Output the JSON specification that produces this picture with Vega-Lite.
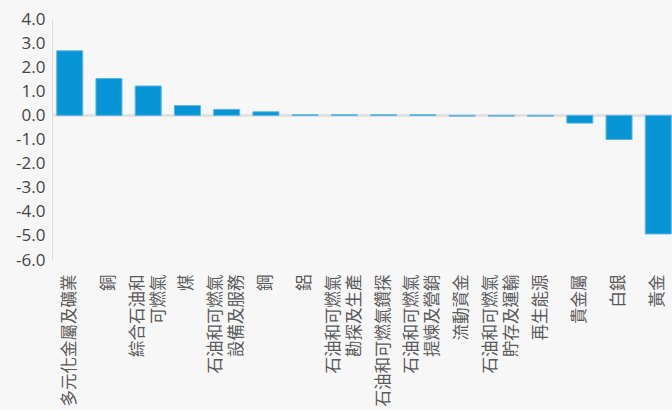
{
  "$schema": "https://vega.github.io/schema/vega-lite/v6.json",
  "width": 620,
  "height": 241,
  "autosize": "none",
  "padding": {"left": 52, "top": 19, "right": 0, "bottom": 150},
  "background": "#f7f7f7",
  "config": {"view": {"stroke": null}, "axis": {"labelOverlap": false}},
  "data": {
    "values": [
      {"sector": "多元化金屬及礦業", "value": 2.68},
      {"sector": "銅", "value": 1.53},
      {"sector": "綜合石油和 可燃氣", "value": 1.22},
      {"sector": "煤", "value": 0.41},
      {"sector": "石油和可燃氣 設備及服務", "value": 0.25},
      {"sector": "鋼", "value": 0.15},
      {"sector": "鋁", "value": 0.03},
      {"sector": "石油和可燃氣 勘探及生產", "value": 0.03},
      {"sector": "石油和可燃氣鑽探", "value": 0.03},
      {"sector": "石油和可燃氣 提煉及營銷", "value": 0.03},
      {"sector": "流動資金", "value": -0.03},
      {"sector": "石油和可燃氣 貯存及運輸", "value": -0.03},
      {"sector": "再生能源", "value": -0.03},
      {"sector": "貴金屬", "value": -0.32},
      {"sector": "白銀", "value": -1.0},
      {"sector": "黃金", "value": -4.92}
    ]
  },
  "layer": [
    {
      "mark": {"type": "rule", "color": "#e2e2e2", "strokeWidth": 2},
      "encoding": {
        "y": {
          "datum": 0,
          "type": "quantitative",
          "scale": {"domain": [-6, 4], "nice": false},
          "axis": {
            "title": null,
            "values": [-6, -5, -4, -3, -2, -1, 0, 1, 2, 3, 4],
            "labelExpr": "replace(format(datum.value, '.1f'), '−', '-')",
            "labelOverlap": false,
            "grid": false,
            "ticks": false,
            "domainColor": "#dddddd",
            "labelFont": "Open Sans",
            "labelFontSize": 17,
            "labelColor": "#444444",
            "labelPadding": 7
          }
        }
      }
    },
    {
      "mark": {"type": "bar", "color": "#0795d6", "stroke": "#5db6e6", "strokeWidth": 1},
      "encoding": {
        "x": {
          "field": "sector",
          "type": "nominal",
          "sort": null,
          "scale": {"range": [0, 624], "paddingInner": 0.337, "paddingOuter": 0.12},
          "axis": {
            "title": null,
            "orient": "bottom",
            "domain": false,
            "ticks": false,
            "labelAngle": -90,
            "labelPadding": 14,
            "labelFont": "Noto Sans CJK TC",
            "labelFontSize": 16.5,
            "labelLineHeight": 21,
            "labelColor": "#5a5a5a",
            "labelOverlap": false,
            "labelLimit": 300,
            "labelOffset": {"condition": {"test": "indexof(datum.label, ' ') >= 0", "value": -10.5}, "value": 0},
            "labelExpr": "split(datum.label, ' ')"
          }
        },
        "y": {
          "field": "value",
          "type": "quantitative",
          "scale": {"domain": [-6, 4], "nice": false},
          "axis": {
            "title": null,
            "values": [-6, -5, -4, -3, -2, -1, 0, 1, 2, 3, 4],
            "labelExpr": "replace(format(datum.value, '.1f'), '−', '-')",
            "labelOverlap": false,
            "grid": false,
            "ticks": false,
            "domainColor": "#dddddd",
            "labelFont": "Open Sans",
            "labelFontSize": 17,
            "labelColor": "#444444",
            "labelPadding": 7
          }
        }
      }
    }
  ]
}
